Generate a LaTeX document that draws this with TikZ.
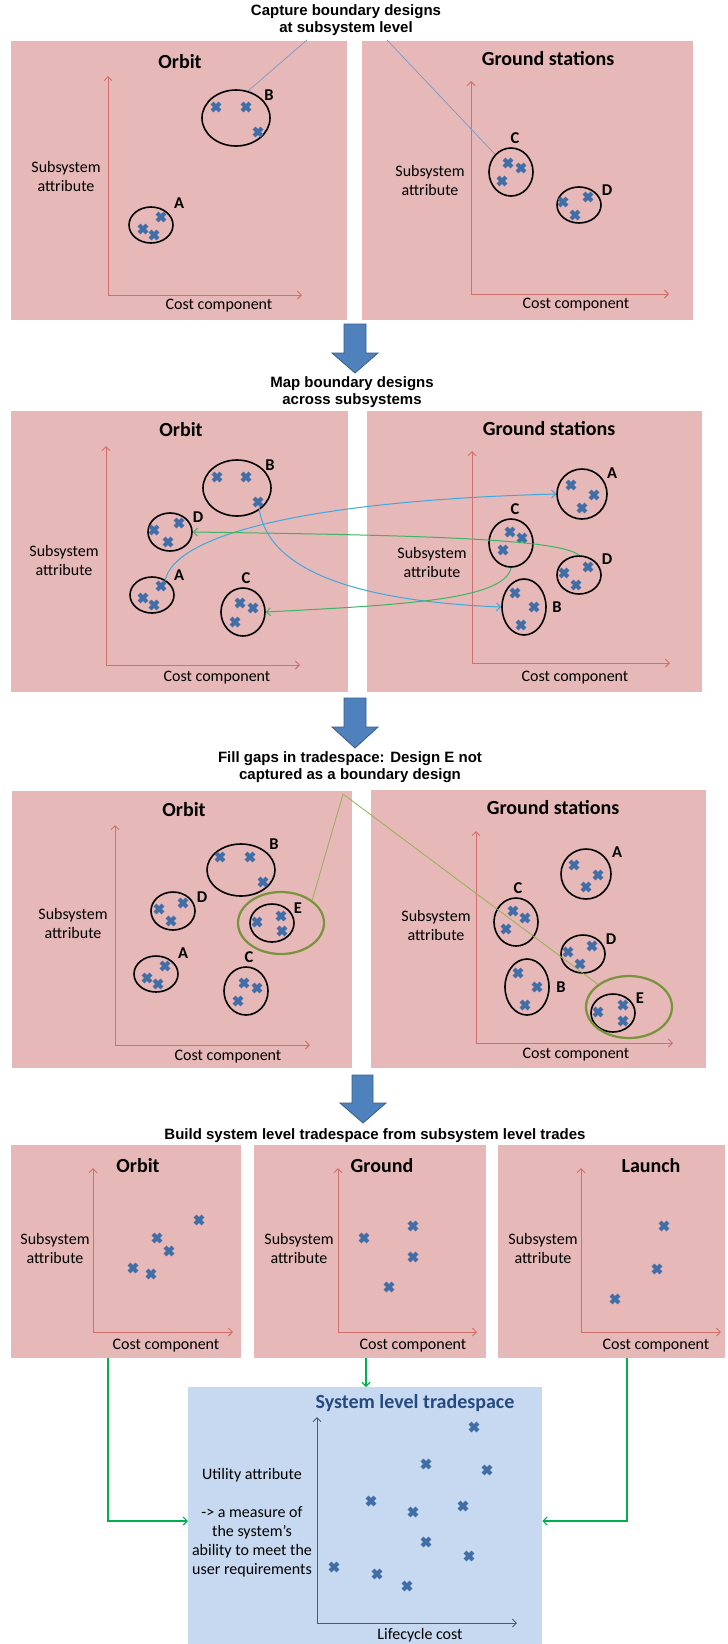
\documentclass[tikz,border=0pt]{standalone}
\usepackage{fontspec}
\setmainfont{Carlito}
\newfontfamily\headfont{Liberation Sans}
\usetikzlibrary{shapes.geometric,arrows.meta}

\definecolor{panelpink}{RGB}{230,184,183}
\definecolor{axisred}{RGB}{208,112,110}
\definecolor{syspanel}{RGB}{198,217,240}
\definecolor{sysaxis}{RGB}{70,90,125}
\definecolor{systitle}{RGB}{37,74,128}
\definecolor{markblue}{RGB}{66,110,168}
\definecolor{arrowfill}{RGB}{79,129,189}
\definecolor{arrowedge}{RGB}{56,93,138}
\definecolor{mapblue}{RGB}{60,168,222}
\definecolor{mapgreen}{RGB}{60,180,100}
\definecolor{linkgreen}{RGB}{0,176,80}
\definecolor{egreen}{RGB}{119,147,60}
\definecolor{calloutblue}{RGB}{125,150,200}
\definecolor{calloutgreen}{RGB}{150,175,90}

% one design point of a tradespace
\newcommand\dpt[1]{\pic at (#1) {xcross};}

\begin{document}
\begin{tikzpicture}[x=1pt,y=-1pt,
  panel/.style={fill=panelpink, draw=none, anchor=north west, inner sep=0},
  syspanelbox/.style={fill=syspanel, draw=none, anchor=north west, inner sep=0},
  ptitle/.style={font=\bfseries\fontsize{20}{24}\selectfont, inner sep=0},
  steptitle/.style={font=\headfont\bfseries\fontsize{15}{17}\selectfont, align=center, inner sep=0},
  axlabel/.style={font=\fontsize{16}{19}\selectfont, align=center, inner sep=0},
  lbl/.style={font=\bfseries\fontsize{16.5}{19}\selectfont, inner sep=0},
  axisln/.style={draw=axisred, line width=0.9pt, -{Straight Barb[length=4pt,width=8pt]}},
  sysaxisln/.style={draw=sysaxis, line width=0.9pt, -{Straight Barb[length=4pt,width=8pt]}},
  grp/.style={ellipse, draw=black, line width=1.6pt, inner sep=0},
  ggrp/.style={ellipse, draw=egreen, line width=2.2pt, inner sep=0},
  xcross/.pic={\draw[markblue, line width=4.2pt] (-3.9,-3.9) -- (3.9,3.9) (-3.9,3.9) -- (3.9,-3.9);},
  steparrow/.style={fill=arrowfill, draw=arrowedge, line width=0.8pt, line join=miter},
  mapb/.style={draw=mapblue, line width=1pt, -{Straight Barb[length=4pt,width=8pt]}},
  mapg/.style={draw=mapgreen, line width=1pt, -{Straight Barb[length=4pt,width=8pt]}},
  callb/.style={draw=calloutblue, line width=0.7pt},
  callg/.style={draw=calloutgreen, line width=0.8pt},
  link/.style={draw=linkgreen, line width=1.1pt, -{Straight Barb[length=4pt,width=8pt]}},
]
\useasboundingbox (0,0) rectangle (728,1644);

% ---------------- Stage 1: capture boundary designs ----------------
\node[steptitle] (t1) at (346,20) {Capture boundary designs\\at subsystem level};

\node[panel, minimum width=336, minimum height=279] (o1) at (11,41) {};
\node[ptitle] (o1t) at (180,62) {Orbit};
\draw[axisln] (108,295) -- (108,76);
\draw[axisln] (108,295) -- (302,295);
\node[axlabel] (o1y) at (66,176) {Subsystem\\attribute};
\node[axlabel] (o1x) at (219,306) {Cost component};
\node[grp, minimum width=68, minimum height=56] (o1B) at (236,118) {};
\dpt{216,107}\dpt{246,107}\dpt{258,132}
\node[lbl] (o1Bl) at (269,95) {B};
\node[grp, minimum width=44, minimum height=36] (o1A) at (151,225) {};
\dpt{143,229}\dpt{154,235}\dpt{161,217}
\node[lbl] (o1Al) at (179,203) {A};

\node[panel, minimum width=331, minimum height=279] (g1) at (362,41) {};
\node[ptitle] (g1t) at (548,59) {Ground stations};
\draw[axisln] (471,294) -- (471,81);
\draw[axisln] (471,294) -- (669,294);
\node[axlabel] (g1y) at (430,180) {Subsystem\\attribute};
\node[axlabel] (g1x) at (576,305) {Cost component};
\node[grp, minimum width=44, minimum height=48] (g1C) at (511,172) {};
\dpt{508,163}\dpt{521,168}\dpt{502,181}
\node[lbl] (g1Cl) at (515,138) {C};
\node[grp, minimum width=44, minimum height=36] (g1D) at (579,205) {};
\dpt{563,202}\dpt{575,215}\dpt{588,197}
\node[lbl] (g1Dl) at (607,190) {D};

\coordinate (c1a) at (307,40);
\coordinate (c1b) at (387,40);
\draw[callb] (c1a) -- (o1B.66);
\draw[callb] (c1b) -- (g1C.132);

\draw[steparrow] (344,324) -- (366,324) -- (366,353) -- (378,353) -- (355,373) -- (332,353) -- (344,353) -- cycle;

% ---------------- Stage 2: map boundary designs ----------------
\node[steptitle] (t2) at (352,392) {Map boundary designs\\across subsystems};

\node[panel, minimum width=337, minimum height=281] (o2) at (11,411) {};
\node[ptitle] (o2t) at (181,430) {Orbit};
\draw[axisln] (106,665) -- (106,446);
\draw[axisln] (106,665) -- (300,665);
\node[axlabel] (o2y) at (64,560) {Subsystem\\attribute};
\node[axlabel] (o2x) at (217,678) {Cost component};
\node[grp, minimum width=68, minimum height=56] (o2B) at (237,488) {};
\dpt{217,477}\dpt{246,477}\dpt{258,502}
\coordinate (o2B3) at (259,507);
\node[lbl] (o2Bl) at (270,465) {B};
\node[grp, minimum width=44, minimum height=38] (o2D) at (170,532) {};
\dpt{154,530}\dpt{168,542}\dpt{179,523}
\node[lbl] (o2Dl) at (198,517) {D};
\node[grp, minimum width=44, minimum height=36] (o2A) at (152,595) {};
\dpt{143,598}\dpt{154,605}\dpt{161,586}
\coordinate (o2A3) at (165,581);
\node[lbl] (o2Al) at (179,575) {A};
\node[grp, minimum width=44, minimum height=48] (o2C) at (243,612) {};
\dpt{240,603}\dpt{253,608}\dpt{235,622}
\node[lbl] (o2Cl) at (246,578) {C};

\node[panel, minimum width=335, minimum height=281] (g2) at (367,411) {};
\node[ptitle] (g2t) at (549,429) {Ground stations};
\draw[axisln] (472,663) -- (472,451);
\draw[axisln] (472,663) -- (670,663);
\node[axlabel] (g2y) at (432,562) {Subsystem\\attribute};
\node[axlabel] (g2x) at (575,678) {Cost component};
\node[grp, minimum width=50, minimum height=50] (g2A) at (582,494) {};
\dpt{571,485}\dpt{594,495}\dpt{582,508}
\node[lbl] (g2Al) at (612,473) {A};
\node[grp, minimum width=44, minimum height=48] (g2C) at (511,543) {};
\dpt{510,532}\dpt{522,538}\dpt{503,550}
\node[lbl] (g2Cl) at (515,509) {C};
\node[grp, minimum width=44, minimum height=38] (g2D) at (579,575) {};
\dpt{564,573}\dpt{576,585}\dpt{588,567}
\node[lbl] (g2Dl) at (607,559) {D};
\node[grp, minimum width=44, minimum height=56] (g2B) at (524,607) {};
\dpt{515,593}\dpt{534,607}\dpt{521,625}
\node[lbl] (g2Bl) at (557,607) {B};

% mappings between the two subsystems
\draw[mapb] (o2A3) .. controls (175,530) and (330,500) .. (g2A.west);
\draw[mapb] (o2B3) .. controls (265,560) and (330,600) .. (g2B.west);
\draw[mapg] (g2D.north) .. controls (560,538) and (400,535) .. (o2D.east);
\draw[mapg] (g2C.south) .. controls (505,600) and (400,605) .. (o2C.east);

\draw[steparrow] (344,698) -- (366,698) -- (366,727) -- (378,727) -- (355,748) -- (332,727) -- (344,727) -- cycle;

% ---------------- Stage 3: fill gaps ----------------
\node[steptitle] (t3) at (350,767) {Fill gaps in tradespace: Design E not\\captured as a boundary design};

\node[panel, minimum width=340, minimum height=277] (o3) at (12,791) {};
\node[ptitle] (o3t) at (184,810) {Orbit};
\draw[axisln] (115,1045) -- (115,825);
\draw[axisln] (115,1045) -- (310,1045);
\node[axlabel] (o3y) at (73,923) {Subsystem\\attribute};
\node[axlabel] (o3x) at (228,1057) {Cost component};
\node[grp, minimum width=68, minimum height=52] (o3B) at (241,870) {};
\dpt{220,857}\dpt{250,857}\dpt{263,882}
\node[lbl] (o3Bl) at (274,844) {B};
\node[grp, minimum width=44, minimum height=38] (o3D) at (173,911) {};
\dpt{159,909}\dpt{171,921}\dpt{183,903}
\node[lbl] (o3Dl) at (202,897) {D};
\node[grp, minimum width=44, minimum height=38] (o3E) at (272,923) {};
\dpt{257,922}\dpt{281,916}\dpt{282,931}
\node[lbl] (o3El) at (298,908) {E};
\node[ggrp, minimum width=86, minimum height=62] (o3G) at (281,923) {};
\node[grp, minimum width=44, minimum height=36] (o3A) at (156,974) {};
\dpt{147,978}\dpt{158,984}\dpt{165,966}
\node[lbl] (o3Al) at (183,953) {A};
\node[grp, minimum width=44, minimum height=48] (o3C) at (246,991) {};
\dpt{244,983}\dpt{257,988}\dpt{238,1001}
\node[lbl] (o3Cl) at (249,957) {C};

\node[panel, minimum width=335, minimum height=278] (g3) at (371,790) {};
\node[ptitle] (g3t) at (553,808) {Ground stations};
\draw[axisln] (476,1043) -- (476,831);
\draw[axisln] (476,1043) -- (673,1043);
\node[axlabel] (g3y) at (436,925) {Subsystem\\attribute};
\node[axlabel] (g3x) at (576,1055) {Cost component};
\node[grp, minimum width=50, minimum height=50] (g3A) at (586,874) {};
\dpt{574,865}\dpt{598,875}\dpt{586,887}
\node[lbl] (g3Al) at (617,852) {A};
\node[grp, minimum width=44, minimum height=48] (g3C) at (516,922) {};
\dpt{513,911}\dpt{525,918}\dpt{506,929}
\node[lbl] (g3Cl) at (518,888) {C};
\node[grp, minimum width=44, minimum height=38] (g3D) at (583,954) {};
\dpt{568,952}\dpt{580,964}\dpt{592,946}
\node[lbl] (g3Dl) at (611,939) {D};
\node[grp, minimum width=44, minimum height=56] (g3B) at (527,987) {};
\dpt{518,973}\dpt{537,987}\dpt{525,1005}
\node[lbl] (g3Bl) at (561,987) {B};
\node[grp, minimum width=44, minimum height=38] (g3E) at (613,1013) {};
\dpt{598,1012}\dpt{623,1005}\dpt{623,1021}
\node[lbl] (g3El) at (640,998) {E};
\node[ggrp, minimum width=86, minimum height=62] (g3G) at (629,1007) {};

\coordinate (c3) at (343,794);
\draw[callg] (c3) -- (o3G.north east);
\draw[callg] (c3) -- (g3G.north west);

\draw[steparrow] (352,1075) -- (373,1075) -- (373,1103) -- (386,1103) -- (363,1123) -- (340,1103) -- (352,1103) -- cycle;

% ---------------- Stage 4: system level tradespace ----------------
\node[steptitle] (t4) at (375,1136) {Build system level tradespace from subsystem level trades};

\node[panel, minimum width=230, minimum height=213] (o4) at (11,1145) {};
\node[ptitle] (o4t) at (138,1166) {Orbit};
\draw[axisln] (93,1332) -- (93,1168);
\draw[axisln] (93,1332) -- (233,1332);
\node[axlabel] (o4y) at (55,1248) {Subsystem\\attribute};
\node[axlabel] (o4x) at (166,1346) {Cost component};
\dpt{199,1220}\dpt{157,1238}\dpt{169,1251}\dpt{133,1268}\dpt{151,1274}

\node[panel, minimum width=232, minimum height=213] (g4) at (254,1145) {};
\node[ptitle] (g4t) at (382,1166) {Ground};
\draw[axisln] (338,1332) -- (338,1168);
\draw[axisln] (338,1332) -- (477,1332);
\node[axlabel] (g4y) at (299,1248) {Subsystem\\attribute};
\node[axlabel] (g4x) at (413,1346) {Cost component};
\dpt{364,1238}\dpt{413,1226}\dpt{413,1257}\dpt{389,1287}

\node[panel, minimum width=227, minimum height=213] (l4) at (498,1145) {};
\node[ptitle] (l4t) at (651,1166) {Launch};
\draw[axisln] (581,1332) -- (581,1168);
\draw[axisln] (581,1332) -- (721,1332);
\node[axlabel] (l4y) at (543,1248) {Subsystem\\attribute};
\node[axlabel] (l4x) at (656,1346) {Cost component};
\dpt{664,1226}\dpt{657,1269}\dpt{615,1299}

\node[syspanelbox, minimum width=354, minimum height=257] (sys) at (188,1387) {};
\node[ptitle, text=systitle] (syst) at (415,1403) {System level tradespace};
\draw[sysaxisln] (317,1623) -- (317,1417);
\draw[sysaxisln] (317,1623) -- (517,1623);
\node[axlabel] (sysx) at (420,1635) {Lifecycle cost};
\node[axlabel] (sysy) at (252,1523) {Utility attribute\\[19pt]-> a measure of\\the system’s\\ability to meet the\\user requirements};
\dpt{474,1427}\dpt{426,1464}\dpt{487,1470}\dpt{371,1501}\dpt{413,1512}
\dpt{463,1506}\dpt{426,1542}\dpt{469,1556}\dpt{334,1567}\dpt{377,1574}\dpt{407,1586}

% subsystem trades feeding the system tradespace
\coordinate (k1) at (108,1521);
\coordinate (k2) at (366,1358);
\coordinate (k3) at (627,1521);
\draw[link] (o4.south -| k1) -- (k1) -- (sys.west |- k1);
\draw[link] (k2) -- (sys.north -| k2);
\draw[link] (l4.south -| k3) -- (k3) -- (sys.east |- k3);
\end{tikzpicture}
\end{document}
